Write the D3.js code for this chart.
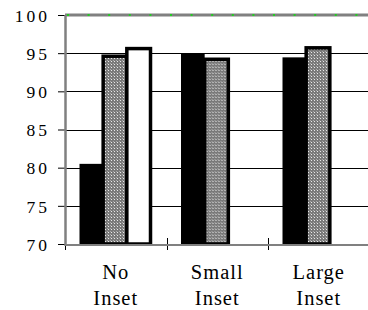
<!DOCTYPE html>
<html>
<head>
<meta charset="utf-8">
<script src="https://cdn.jsdelivr.net/npm/d3@7"></script>
<style>
  body { margin: 0; background: #fff; }
  svg { display: block; }
  svg text { font-family: "Liberation Serif", "DejaVu Serif", "Times New Roman", Times, serif; }
</style>
</head>
<body>
<div id="chart"></div>
<script>
// data
const categories = ['No Inset', 'Small Inset', 'Large Inset'];
const series = ['solid', 'pattern', 'open'];
const solidValues = [80.5, 94.9, 94.45];
const patternValues = [94.6, 94.2, 95.7];
const openValues = [95.6, null, null];
const yTicks = [70, 75, 80, 85, 90, 95, 100];

const width = 368;
const height = 310;
const margin = {top: 15, right: 0, bottom: 66, left: 65};
const fontFamily = '"Liberation Serif", "DejaVu Serif", "Times New Roman", Times, serif';
const axisGray = '#808080';

const valueMap = {solid: solidValues, pattern: patternValues, open: openValues};

const yScale = d3.scaleLinear()
                .domain([70, 100])
                .range([height - margin.bottom, margin.top]);
const x0 = d3.scaleBand()
                .domain(categories)
                .range([margin.left, 369.5]);
const x1 = d3.scaleBand()
                .domain(series)
                .range([14.5, 85.5]);

const svg = d3.select('#chart')
              .append('svg')
                .attr('width', width)
                .attr('height', height);

// checkered fill
const pat = svg.append('defs').append('pattern')
    .attr('id', 'checker')
    .attr('patternUnits', 'userSpaceOnUse')
    .attr('width', 3)
    .attr('height', 3);
pat.append('rect').attr('width', 3).attr('height', 3).attr('fill', '#7a7a7a');
pat.append('rect').attr('x', 1).attr('y', 1).attr('width', 1).attr('height', 1).attr('fill', '#e8e8e8');
pat.append('rect').attr('x', 0).attr('y', 0).attr('width', 1).attr('height', 1).attr('fill', '#a8a8a8');

// gridlines
svg.append('g')
    .selectAll('line')
    .data(yTicks.filter(t => t > 70 && t < 100))
    .join('line')
      .attr('x1', margin.left)
      .attr('x2', width)
      .attr('y1', d => Math.round(yScale(d)) + 0.5)
      .attr('y2', d => Math.round(yScale(d)) + 0.5)
      .attr('stroke', 'black')
      .attr('stroke-width', 1);

// bars
const rows = categories.map((c, i) => series.map(s => ({cat: c, s: s, v: valueMap[s][i]})));
const groups = svg.append('g')
    .selectAll('g')
    .data(rows)
    .join('g')
      .attr('transform', (d, i) => `translate(${x0(categories[i])},0)`);

groups.selectAll('rect')
    .data(d => d.filter(e => e.v != null))
    .join('rect')
      .attr('x', d => x1(d.s))
      .attr('width', x1.bandwidth())
      .attr('y', d => yScale(d.v))
      .attr('height', d => yScale(70) - yScale(d.v))
      .attr('fill', d => d.s == 'solid' ? 'black' : (d.s == 'pattern' ? 'url(#checker)' : 'white'))
      .attr('stroke', d => d.s == 'solid' ? 'none' : 'black')
      .attr('stroke-width', 3.5);

// axes
const yAxis = svg.append('g')
    .attr('transform', `translate(${margin.left},0)`)
    .call(d3.axisLeft(yScale).tickValues(yTicks).tickSize(7).tickSizeOuter(0))
    .attr('font-family', null);
yAxis.select('.domain').remove();
yAxis.selectAll('.tick line').attr('stroke', 'black');
yAxis.selectAll('.tick text')
    .attr('x', -15)
    .attr('dy', '0.36em')
    .style('font-family', fontFamily)
    .style('font-size', '17.5px')
    .style('letter-spacing', '3px')
    .attr('fill', 'black');

// category separators
svg.append('g')
    .selectAll('line')
    .data(categories)
    .join('line')
      .attr('x1', d => Math.round(x0(d)) + 0.5)
      .attr('x2', d => Math.round(x0(d)) + 0.5)
      .attr('y1', yScale(70) - 6)
      .attr('y2', yScale(70) + 6)
      .attr('stroke', 'black');

svg.append('line')
    .attr('x1', margin.left).attr('x2', width)
    .attr('y1', yScale(70) + 1).attr('y2', yScale(70) + 1)
    .attr('stroke', axisGray).attr('stroke-width', 2);
svg.append('line')
    .attr('x1', margin.left + 0.5).attr('x2', margin.left + 0.5)
    .attr('y1', yScale(100)).attr('y2', yScale(70) + 2)
    .attr('stroke', axisGray).attr('stroke-width', 2.5);
svg.append('line')
    .attr('x1', margin.left).attr('x2', width)
    .attr('y1', yScale(100)).attr('y2', yScale(100))
    .attr('stroke', axisGray).attr('stroke-width', 3);
svg.append('line')
    .attr('x1', margin.left + 2).attr('x2', width)
    .attr('y1', yScale(100)).attr('y2', yScale(100))
    .attr('stroke', '#22cc22').attr('stroke-width', 2)
    .style('stroke-dasharray', '2,18.6');

// category labels
svg.append('g')
    .selectAll('text')
    .data(categories)
    .join('text')
      .attr('x', d => x0(d) + x0.bandwidth() / 2)
      .attr('y', 279)
      .attr('text-anchor', 'middle')
      .style('font-family', fontFamily)
      .style('font-size', '20.5px')
      .style('letter-spacing', '1px')
      .attr('fill', 'black')
      .each(function (d) {
          const parts = d.split(' ');
          d3.select(this).selectAll('tspan')
            .data(parts)
            .join('tspan')
              .attr('x', x0(d) + x0.bandwidth() / 2)
              .attr('dy', (p, i) => i == 0 ? 0 : 25.5)
              .text(p => p);
      });
</script>
</body>
</html>
